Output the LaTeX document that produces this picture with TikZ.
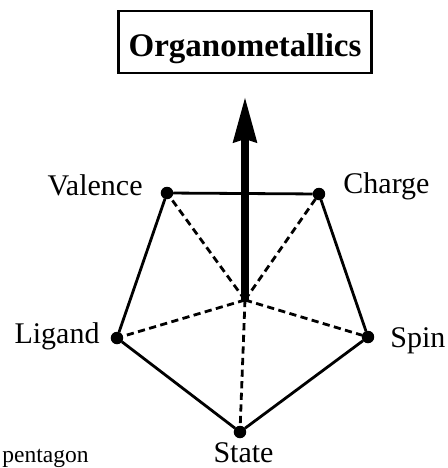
\documentclass[tikz,border=0pt]{standalone}
\usepackage{fontspec}
\setmainfont{Liberation Serif}
\usepackage{tikz}
\usetikzlibrary{arrows.meta}
\usetikzlibrary{positioning}

\begin{document}
\begin{tikzpicture}[x=0.5pt,y=0.5pt,
   corner/.style={circle,fill,inner sep=0pt,outer sep=0pt,minimum size=6.25pt},
   lbl/.style={inner sep=0pt,font=\fontsize{15}{18}\selectfont},
   edge/.style={line width=1.4pt},
   spoke/.style={line width=1.4pt,dash pattern=on 3.6pt off 2.2pt},
   lift/.style={line width=3.6pt,-{Stealth[length=22.5pt,width=11.5pt,inset=1.5pt]}},
   titlebox/.style={draw,line width=1.1pt,inner sep=0pt,minimum width=126.5pt,
      text height=23pt,text depth=8pt,font=\fontsize{16.5}{19}\selectfont\bfseries}]

   \useasboundingbox (-245,-168) rectangle (203,300);

   \coordinate (O) at (0,0);
   \coordinate (tip) at (0,203);
   \node[corner] (va) at (-78,107) {};
   \node[corner] (ch) at (74,106) {};
   \node[corner] (li) at (-128,-38) {};
   \node[corner] (sp) at (123,-37) {};
   \node[corner] (st) at (-5,-132) {};

   \node[lbl,left=8.9pt of va,anchor=base east,yshift=-1pt] (vat) {Valence};
   \node[lbl,right=8.9pt of ch,anchor=base west,yshift=0.5pt] (cht) {Charge};
   \node[lbl,left=5.4pt of li,anchor=base east,yshift=-2.5pt] (lit) {Ligand};
   \node[lbl,right=7.9pt of sp,anchor=base west,yshift=-5pt] (spt) {Spin};
   \node[lbl,below=12.25pt of st,anchor=base,xshift=1.75pt] (stt) {State};
   \node[titlebox,above=11.5pt of tip] (org) {Organometallics};
   \node[inner sep=0pt,anchor=base west,font=\fontsize{11.75}{14}\selectfont] (pent) at (-243,-162.5) {pentagon};

   \draw[edge] (va) -- (ch) -- (sp) -- (st) -- (li) -- (va);
   \draw[spoke] (O) -- (va);
   \draw[spoke] (O) -- (ch);
   \draw[spoke] (O) -- (li);
   \draw[spoke] (O) -- (sp);
   \draw[spoke] (O) -- (st);
   \draw[lift] (O) -- (tip);

\end{tikzpicture}
\end{document}
